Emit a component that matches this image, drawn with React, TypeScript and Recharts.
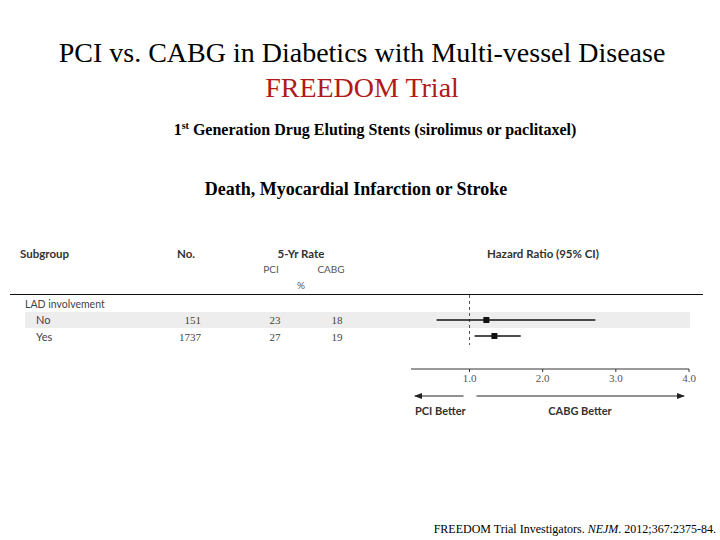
import React from "react";
import { ComposedChart, Scatter, XAxis, YAxis, ErrorBar, ReferenceLine } from "recharts";

const subgroups = ["No", "Yes"];
const patients = [151, 1737];
const pciRate = [23, 27];
const cabgRate = [18, 19];
const hazard = [1.23, 1.34];
const ciLow = [0.55, 1.07];
const ciHigh = [2.72, 1.7];
const xTicks = [1, 2, 3, 4];

const data = subgroups.map((s, i) => ({
  name: s,
  row: i,
  hr: hazard[i],
  err: [hazard[i] - ciLow[i], ciHigh[i] - hazard[i]],
}));

const W = 720;
const H = 540;
const PL = 411;
const PR = 689;
const XMIN = 0.2;
const XMAX = 4;
const sx = (v: number) => PL + ((v - XMIN) * (PR - PL)) / (XMAX - XMIN);

const serif = "'Liberation Serif', 'Times New Roman', serif";
const sans = "Lato, 'Open Sans', sans-serif";

const Square = (props: any) => {
  const { cx, cy } = props;
  return <rect x={cx - 3} y={cy - 3} width={6} height={6} fill="#111" />;
};

export default function App() {
  const rowBase = [324, 341];
  return (
    <div style={{ position: "absolute", left: 0, top: 0, width: W, height: H, background: "#fff", overflow: "hidden" }}>
      <svg width={W} height={H} style={{ position: "absolute", left: 0, top: 0 }}>
        <text x={362} y={62} textAnchor="middle" fontFamily={serif} fontSize={28} fill="#000">
          PCI vs. CABG in Diabetics with Multi-vessel Disease
        </text>
        <text x={362} y={97} textAnchor="middle" fontFamily={serif} fontSize={28} fill="#B01A1A">
          FREEDOM Trial
        </text>
        <text x={375} y={135} textAnchor="middle" fontFamily={serif} fontSize={16} fontWeight="bold" fill="#000">
          1<tspan fontSize={10} dy={-6}>st</tspan>
          <tspan dy={6}> Generation Drug Eluting Stents (sirolimus or paclitaxel)</tspan>
        </text>
        <text x={356} y={195} textAnchor="middle" fontFamily={serif} fontSize={18} fontWeight="bold" fill="#000">
          Death, Myocardial Infarction or Stroke
        </text>

        <rect x={25} y={312} width={665} height={16} fill="#ededed" />

        <g fontFamily={sans} fill="#333" fontSize={11.5}>
          <text x={20} y={258} fontWeight="bold">Subgroup</text>
          <text x={177} y={258} fontWeight="bold">No.</text>
          <text x={301} y={258} fontWeight="bold" textAnchor="middle">5-Yr Rate</text>
          <text x={271} y={273} textAnchor="middle" fill="#555" fontSize={10}>PCI</text>
          <text x={331} y={273} textAnchor="middle" fill="#555" fontSize={10}>CABG</text>
          <text x={301} y={289} textAnchor="middle" fill="#555" fontSize={10}>%</text>
          <text x={543} y={258} fontWeight="bold" textAnchor="middle">Hazard Ratio (95% CI)</text>
          <text x={25} y={308} fill="#444" fontSize={10.5}>LAD involvement</text>
        </g>
        <line x1={10} x2={703} y1={294.5} y2={294.5} stroke="#111" strokeWidth={1} />

        {subgroups.map((s, i) => (
          <g key={s} fill="#444" fontSize={11}>
            <text x={36} y={rowBase[i]} fontFamily={sans}>{s}</text>
            <text x={201} y={rowBase[i]} textAnchor="end" fontFamily={serif}>{patients[i]}</text>
            <text x={275} y={rowBase[i]} textAnchor="middle" fontFamily={serif}>{pciRate[i]}</text>
            <text x={337} y={rowBase[i]} textAnchor="middle" fontFamily={serif}>{cabgRate[i]}</text>
          </g>
        ))}

        <defs>
          <marker id="ah" markerWidth="8" markerHeight="6" refX="7" refY="3" orient="auto" markerUnits="userSpaceOnUse">
            <path d="M0,0 L8,3 L0,6 Z" fill="#222" />
          </marker>
        </defs>
        <line x1={sx(1) - 6} x2={sx(XMIN) + 4} y1={396} y2={396} stroke="#222" strokeWidth={1} markerEnd="url(#ah)" />
        <line x1={sx(1) + 7} x2={sx(XMAX) - 5} y1={396} y2={396} stroke="#222" strokeWidth={1} markerEnd="url(#ah)" />
        <g fontFamily={sans} fontWeight="bold" fontSize={11} fill="#333">
          <text x={415} y={415}>PCI Better</text>
          <text x={580} y={415} textAnchor="middle">CABG Better</text>
        </g>

        <text x={716} y={533} textAnchor="end" fontFamily={serif} fontSize={12} fill="#000">
          FREEDOM Trial Investigators. <tspan fontStyle="italic">NEJM</tspan>. 2012;367:2375-84.
        </text>
      </svg>

      <div style={{ position: "absolute", left: 0, top: 0 }}>
        <ComposedChart width={W} height={H} data={data} margin={{ top: 295, right: W - PR, bottom: H - 369 - 30, left: PL }}>
          <XAxis
            type="number"
            dataKey="hr"
            domain={[XMIN, XMAX]}
            ticks={xTicks}
            tickFormatter={(v: number) => v.toFixed(1)}
            axisLine={{ stroke: "#333" }}
            tickLine={{ stroke: "#333" }}
            tickSize={3}
            height={30}
            tick={{ fontFamily: serif, fontSize: 11, fill: "#555" }}
            allowDataOverflow
          />
          <YAxis type="number" dataKey="row" domain={[-1.5625, 3.0625]} reversed hide />
          <ReferenceLine
            segment={[{ x: 1, y: -1.5625 }, { x: 1, y: 1.5625 }]}
            stroke="#555"
            strokeDasharray="3 3"
          />
          <Scatter dataKey="row" fill="#111" shape={<Square />} isAnimationActive={false}>
            <ErrorBar dataKey="err" direction="x" width={0} stroke="#111" strokeWidth={1.3} />
          </Scatter>
        </ComposedChart>
      </div>
    </div>
  );
}
